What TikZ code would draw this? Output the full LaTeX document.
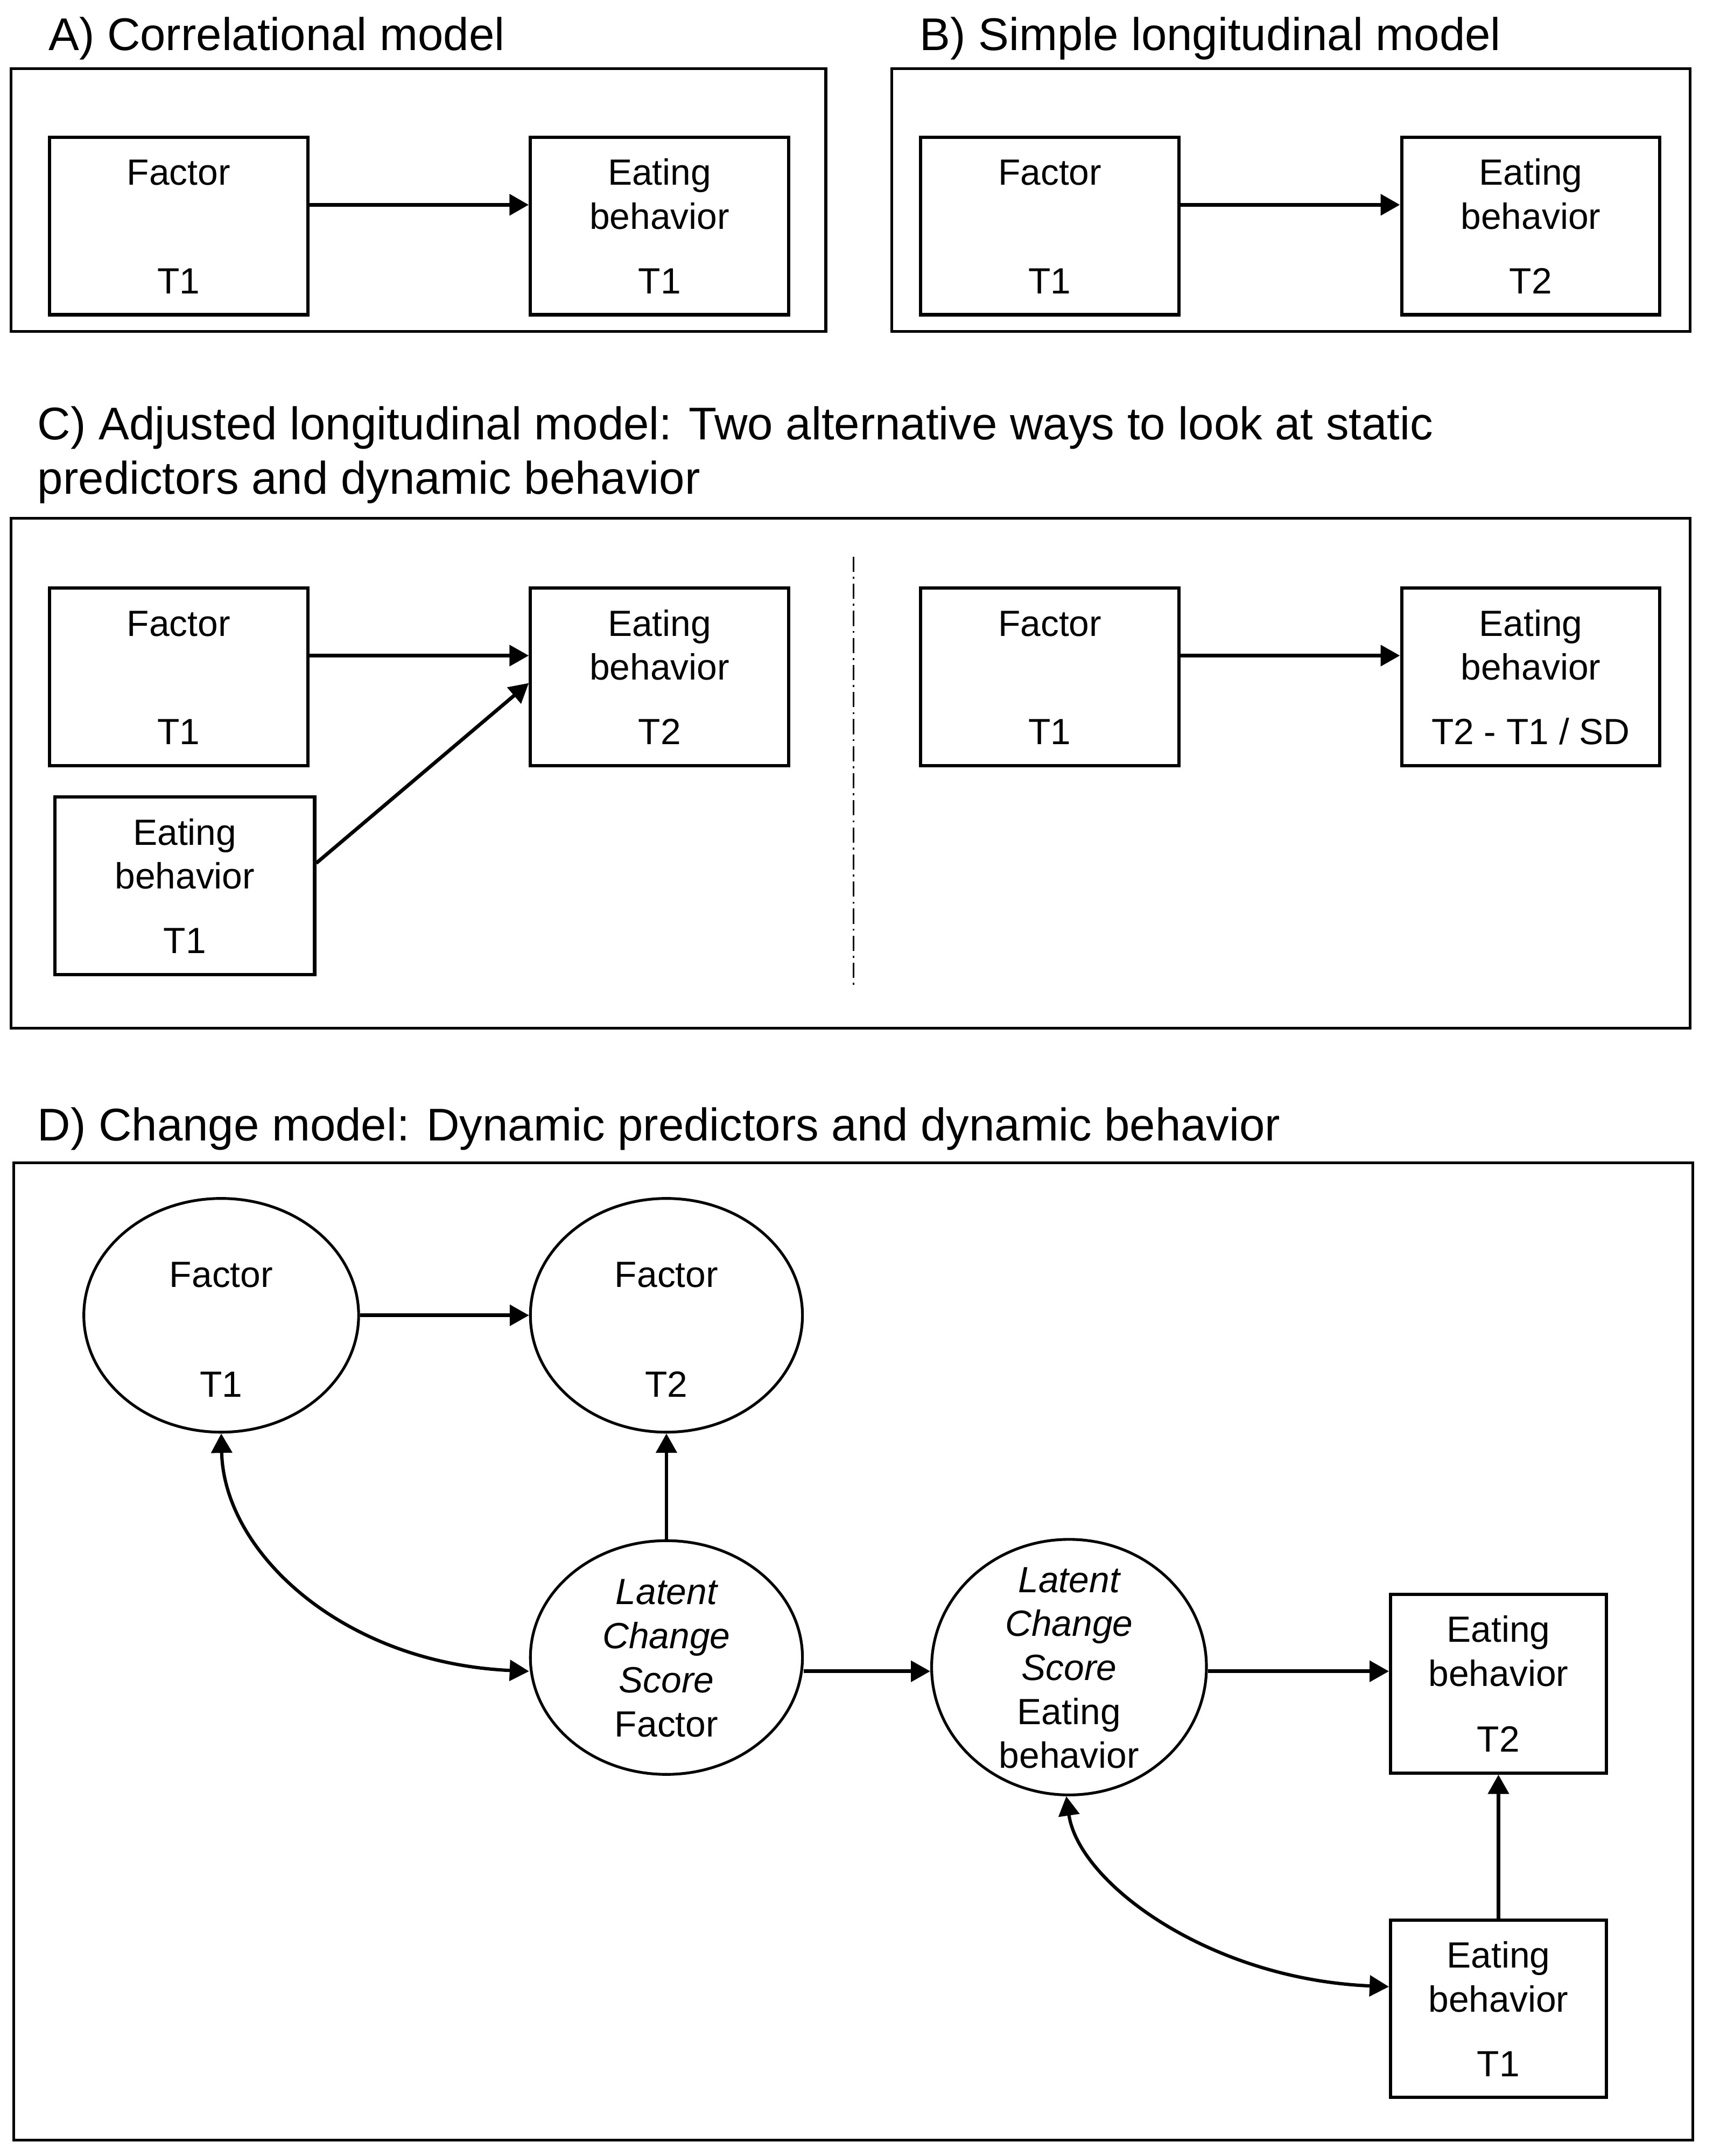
\documentclass[tikz,border=0pt]{standalone}
\usepackage{fontspec}
\setmainfont{Liberation Sans}
\usetikzlibrary{arrows.meta,shapes.geometric,calc}
\newcommand\EatBox[6]{% name, x, y, w, h, bottom text
  \node[box,minimum width=#4,minimum height=#5] (#1) at (#2,#3) {};
  \node[txt] (#1-a) at ($(#1.north)+(0,26.5)$) {Eating};
  \node[txt] (#1-b) at ($(#1.north)+(0,58.5)$) {behavior};
  \node[txt] (#1-c) at ($(#1.south)+(0,-26)$) {#6};
}
\newcommand\FacBox[4]{% name, x, y, bottom text
  \node[box,minimum width=93.5pt,minimum height=64.2pt] (#1) at (#2,#3) {};
  \node[txt] (#1-a) at ($(#1.north)+(0,26.5)$) {Factor};
  \node[txt] (#1-c) at ($(#1.south)+(0,-26)$) {#4};
}
\begin{document}
\begin{tikzpicture}[x=0.4975pt,y=-0.4975pt,
  frame/.style={draw,line width=1pt},
  box/.style={draw,line width=1.2pt,inner sep=0pt},
  oval/.style={draw,ellipse,line width=1pt,inner sep=0pt},
  txt/.style={font=\fontsize{13.2}{16}\selectfont,inner sep=0pt,text height=9.45pt,text depth=0pt},
  ttl/.style={font=\fontsize{16.6}{20}\selectfont,inner sep=0pt,text height=11.9pt,text depth=0pt,anchor=west},
  tip/.tip={Triangle[length=7pt,width=7.5pt]},
  arr/.style={-tip,line width=1.3pt},
  barr/.style={tip-tip,line width=1.2pt},
  dashdot/.style={line width=0.6pt,dash pattern=on 5.5pt off 1.8pt on 0.7pt off 1.8pt}]
\fill[white] (0,0) rectangle (1246.4,1568.7);
\useasboundingbox (0,0) rectangle (1246.4,1568.7);

% ---------- A ----------
\node[ttl] (tA) at (35,24.5) {A) Correlational model};
\draw[frame] (8,50) rectangle (601,241);
\FacBox{af}{130}{164.5}{T1}
\EatBox{ae}{480}{164.5}{93.5pt}{64.2pt}{T1}
\draw[arr,line width=1.45pt] ($(af.east)+(0,-15.5)$) -- ($(ae.west)+(0,-15.5)$);

% ---------- B ----------
\node[ttl] (tB) at (669,24.5) {B) Simple longitudinal model};
\draw[frame] (649,50) rectangle (1230,241);
\FacBox{bf}{764}{164.5}{T1}
\EatBox{be}{1114}{164.5}{93.5pt}{64.2pt}{T2}
\draw[arr,line width=1.45pt] ($(bf.east)+(0,-15.5)$) -- ($(be.west)+(0,-15.5)$);

% ---------- C ----------
\node[ttl] (tC1) at (27,308) {C) Adjusted longitudinal model: Two alternative ways to look at static};
\node[ttl] (tC2) at (27,347.5) {predictors and dynamic behavior};
\draw[frame] (8,377) rectangle (1230,748);
\FacBox{cf}{130}{492.5}{T1}
\EatBox{ce2}{480}{492.5}{93.5pt}{64.2pt}{T2}
\EatBox{ce1}{134.5}{644.5}{94pt}{64.2pt}{T1}
\draw[arr] ($(cf.east)+(0,-15.5)$) -- ($(ce2.west)+(0,-15.5)$);
\draw[arr] ($(ce1.east)+(0,-16.5)$) -- ($(ce2.west)+(0,4.5)$);
\coordinate (sepA) at (621,405);
\coordinate (sepB) at (621,718);
\draw[dashdot] (sepA) -- (sepB);
\FacBox{rf}{764}{492.5}{T1}
\EatBox{re}{1114}{492.5}{93.5pt}{64.2pt}{T2 - T1 / SD}
\draw[arr] ($(rf.east)+(0,-15.5)$) -- ($(re.west)+(0,-15.5)$);

% ---------- D ----------
\node[ttl] (tD) at (27,818) {D) Change model: Dynamic predictors and dynamic behavior};
\draw[frame] (10,846) rectangle (1232,1557);

\node[oval,minimum width=99.5pt,minimum height=84.6pt] (f1) at (161,957) {};
\node[txt] (f1-a) at ($(f1.center)+(0,-30)$) {Factor};
\node[txt] (f1-c) at ($(f1.center)+(0,50)$) {T1};

\node[oval,minimum width=98.5pt,minimum height=84.6pt] (f2) at (485,957) {};
\node[txt] (f2-a) at ($(f2.center)+(0,-30)$) {Factor};
\node[txt] (f2-c) at ($(f2.center)+(0,50)$) {T2};

\node[oval,minimum width=98.5pt,minimum height=84.6pt] (lf) at (485,1206) {};
\node[txt] (lf-a) at ($(lf.center)+(0,-48)$) {\itshape Latent};
\node[txt] (lf-b) at ($(lf.center)+(0,-16)$) {\itshape Change};
\node[txt] (lf-c) at ($(lf.center)+(0,16)$) {\itshape Score};
\node[txt] (lf-d) at ($(lf.center)+(0,48)$) {Factor};

\node[oval,minimum width=99.5pt,minimum height=92.5pt] (le) at (778,1213) {};
\node[txt] (le-a) at ($(le.center)+(0,-64)$) {\itshape Latent};
\node[txt] (le-b) at ($(le.center)+(0,-32)$) {\itshape Change};
\node[txt] (le-c) at ($(le.center)+(0,0)$) {\itshape Score};
\node[txt] (le-d) at ($(le.center)+(0,32)$) {Eating};
\node[txt] (le-e) at ($(le.center)+(0,64)$) {behavior};

\EatBox{de2}{1090.5}{1225}{78.1pt}{64.7pt}{T2}
\EatBox{de1}{1090.5}{1461.5}{78.1pt}{64.2pt}{T1}

\draw[arr] (f1.east) -- (f2.west);
\draw[arr] (lf.north) -- (f2.south);
\draw[arr] ($(lf.east)+(0,10)$) -- ($(le.west)+(0,3)$);
\draw[arr] ($(le.east)+(0,3)$) -- ($(de2.west)+(0,-9)$);
\draw[arr] (de1.north) -- (de2.south);
\draw[barr] (f1.south) .. controls (163,1130) and (250,1210) .. ($(lf.west)+(0,10)$);
\draw[barr] ($(le.south)+(-2,0)$) .. controls (785,1370) and (880,1440) .. ($(de1.west)+(0,-16)$);
\end{tikzpicture}
\end{document}
